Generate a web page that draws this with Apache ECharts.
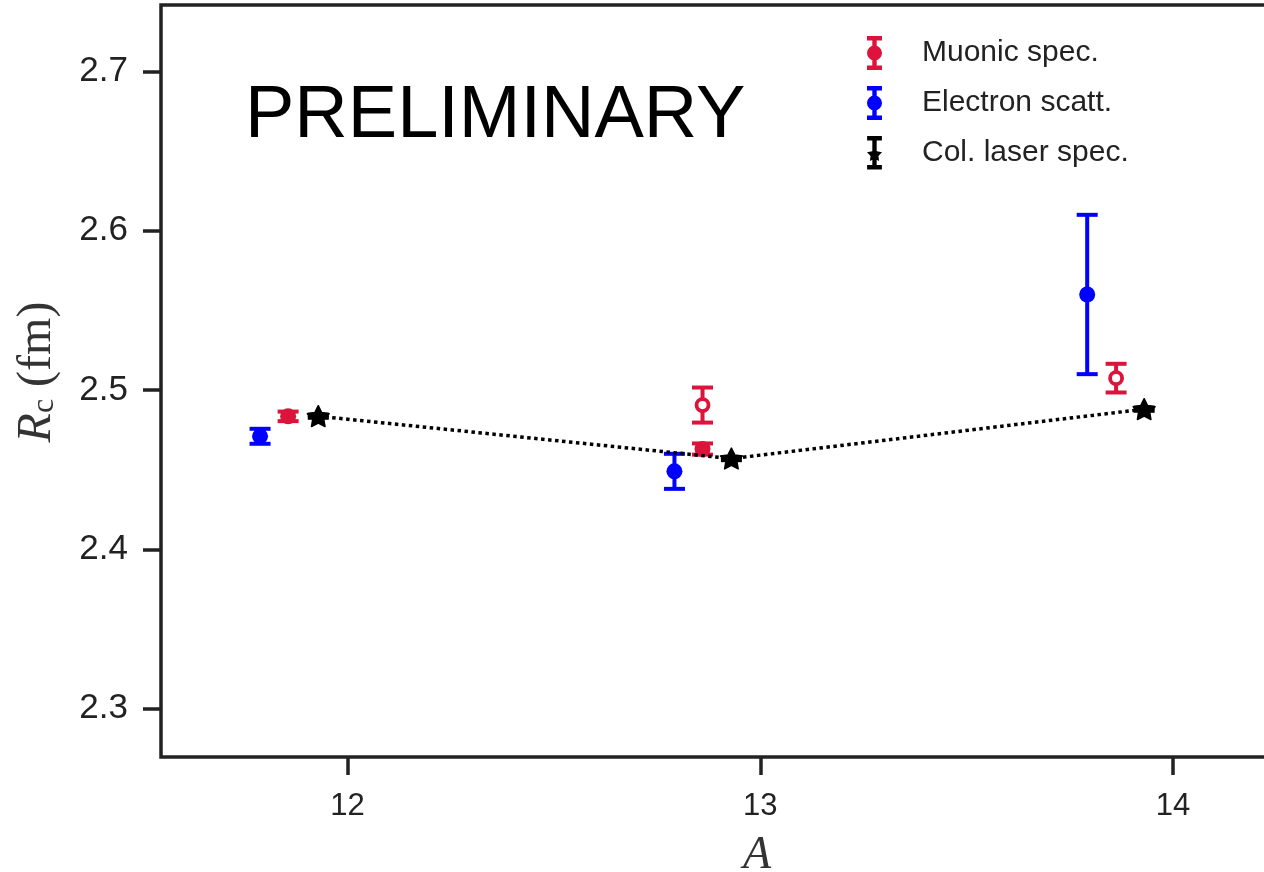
<!DOCTYPE html>
<html>
<head>
<meta charset="utf-8">
<script src="https://cdn.jsdelivr.net/npm/echarts@6/dist/echarts.min.js"></script>
<style>html,body{margin:0;padding:0;background:#fff}#chart{width:1264px;height:872px}</style>
</head>
<body>
<div id="chart"></div>
<script>
// ---- data ----
const seriesNames = ['Muonic spec.', 'Electron scatt.', 'Col. laser spec.'];
const muonicX = [11.856, 12.860, 12.860, 13.862];
const muonicY = [2.4835, 2.4630, 2.4906, 2.5075];
const muonicErr = [0.003, 0.0035, 0.011, 0.009];
const muonicOpen = [0, 0, 1, 1];
const electronX = [11.788, 12.792, 13.792];
const electronY = [2.4710, 2.4490, 2.5600];
const electronErr = [0.0047, 0.011, 0.050];
const laserX = [11.929, 12.930, 13.930];
const laserY = [2.4836, 2.4570, 2.4880];
const laserErr = [0.001, 0.001, 0.001];
const yTicks = [2.3, 2.4, 2.5, 2.6, 2.7];
const xTicks = [12, 13, 14];
const annotation = 'PRELIMINARY';

function rows(xs, ys, es, opens) {
  return xs.map((x, i) => [x, ys[i], es[i], opens ? opens[i] : 0]);
}

function starPoints(cx, cy, R, r) {
  const pts = [];
  for (let k = 0; k < 10; k++) {
    const ang = -Math.PI / 2 + k * Math.PI / 5;
    const rad = k % 2 === 0 ? R : r;
    pts.push([cx + rad * Math.cos(ang), cy + rad * Math.sin(ang)]);
  }
  return pts;
}

function errRender(marker) {
  return function (params, api) {
    const x = api.value(0), y = api.value(1), e = api.value(2), open = api.value(3);
    const c = api.coord([x, y]);
    const hi = api.coord([x, y + e]);
    const lo = api.coord([x, y - e]);
    const color = api.visual('color');
    const lw = 4, cap = 10.5;
    const children = [
      { type: 'line', shape: { x1: c[0], y1: hi[1], x2: c[0], y2: lo[1] }, style: { stroke: color, lineWidth: lw } },
      { type: 'line', shape: { x1: c[0] - cap, y1: hi[1], x2: c[0] + cap, y2: hi[1] }, style: { stroke: color, lineWidth: lw } },
      { type: 'line', shape: { x1: c[0] - cap, y1: lo[1], x2: c[0] + cap, y2: lo[1] }, style: { stroke: color, lineWidth: lw } }
    ];
    if (marker === 'star') {
      children.push({ type: 'polygon', shape: { points: starPoints(c[0], c[1] + 1, 11.5, 5.8) }, style: { fill: color, stroke: color, lineWidth: 1.5, lineJoin: 'round' } });
    } else if (open) {
      children.push({ type: 'circle', shape: { cx: c[0], cy: c[1], r: 6 }, style: { fill: '#fff', stroke: color, lineWidth: 3.8 } });
    } else {
      children.push({ type: 'circle', shape: { cx: c[0], cy: c[1], r: 8 }, style: { fill: color } });
    }
    return { type: 'group', children: children };
  };
}

const capPath = 'M0,0H15V4.5H0Z M5.3,4.5H9.7V29.5H5.3Z M0,29.5H15V34H0Z ';
const circleIcon = 'path://' + capPath + 'M0,17A7.5,7.5,0,1,1,15,17A7.5,7.5,0,1,1,0,17Z';
const starIcon = 'path://' + capPath + (function () {
  const p = starPoints(7.5, 19, 8, 4.2);
  return 'M' + p.map(q => q[0].toFixed(2) + ',' + q[1].toFixed(2)).join('L') + 'Z';
})();

const chart = echarts.init(document.getElementById('chart'), null, { renderer: 'canvas' });
const axisColor = '#222';
chart.setOption({
  animation: false,
  backgroundColor: '#fff',
  title: {
    text: annotation, left: 240, top: 75,
    textStyle: { fontFamily: 'Liberation Sans, Arial, sans-serif', fontSize: 74, fontWeight: 'normal', color: '#000' }
  },
  grid: {
    left: 161, top: 5, width: 1192, height: 752, containLabel: false, outerBoundsMode: 'none',
    show: true, borderColor: axisColor, borderWidth: 3.5, backgroundColor: 'transparent'
  },
  legend: {
    orient: 'vertical', left: 862, top: 31,
    itemWidth: 15, itemHeight: 34, itemGap: 16,
    textStyle: { fontFamily: 'Liberation Sans, Arial, sans-serif', fontSize: 30, color: '#222', padding: [0, 0, 0, 35] },
    data: [
      { name: seriesNames[0], icon: circleIcon },
      { name: seriesNames[1], icon: circleIcon },
      { name: seriesNames[2], icon: starIcon }
    ]
  },
  xAxis: {
    type: 'value', min: 11.548, max: 14.436,
    axisLine: { show: false },
    axisTick: { show: true, length: 18, lineStyle: { color: axisColor, width: 3.5 }, customValues: xTicks },
    axisLabel: { customValues: xTicks, margin: 34, fontFamily: 'Liberation Sans, Arial, sans-serif', fontSize: 31, color: '#222' },
    splitLine: { show: false },
    name: 'A', nameLocation: 'middle', nameGap: 76,
    nameTextStyle: { fontFamily: 'Liberation Serif, DejaVu Serif, serif', fontStyle: 'italic', fontSize: 46, color: '#333' }
  },
  yAxis: {
    type: 'value', min: 2.2697, max: 2.7417,
    axisLine: { show: false },
    axisTick: { show: true, length: 18, lineStyle: { color: axisColor, width: 3.5 }, customValues: yTicks },
    axisLabel: { customValues: yTicks, margin: 33, formatter: v => v.toFixed(1), fontFamily: 'Liberation Sans, Arial, sans-serif', fontSize: 35, color: '#222' },
    splitLine: { show: false },
    name: '{i|R}{s|c}{n| (fm)}', nameLocation: 'middle', nameGap: 100, nameRotate: 90,
    nameTextStyle: {
      color: '#333', padding: [0, 0, 0, 18],
      rich: {
        i: { fontFamily: 'Liberation Serif, DejaVu Serif, serif', fontStyle: 'italic', fontSize: 48, color: '#333' },
        s: { fontFamily: 'Liberation Serif, DejaVu Serif, serif', fontSize: 32, color: '#333', padding: [16, 0, 0, 0] },
        n: { fontFamily: 'Liberation Serif, DejaVu Serif, serif', fontSize: 48, color: '#333' }
      }
    }
  },
  series: [
    {
      name: seriesNames[1], type: 'custom', z: 2,
      itemStyle: { color: '#0000ff' },
      renderItem: errRender('circle'),
      data: rows(electronX, electronY, electronErr)
    },
    {
      name: seriesNames[0], type: 'custom', z: 2,
      itemStyle: { color: '#dc143c' },
      renderItem: errRender('circle'),
      data: rows(muonicX, muonicY, muonicErr, muonicOpen)
    },
    {
      name: 'laserLine', type: 'line', z: 3, showSymbol: false,
      lineStyle: { color: '#000', width: 3.5, type: [3.5, 3.5] },
      data: laserX.map((x, i) => [x, laserY[i]])
    },
    {
      name: seriesNames[2], type: 'custom', z: 4,
      itemStyle: { color: '#000' },
      renderItem: errRender('star'),
      data: rows(laserX, laserY, laserErr)
    }
  ]
});
</script>
</body>
</html>
